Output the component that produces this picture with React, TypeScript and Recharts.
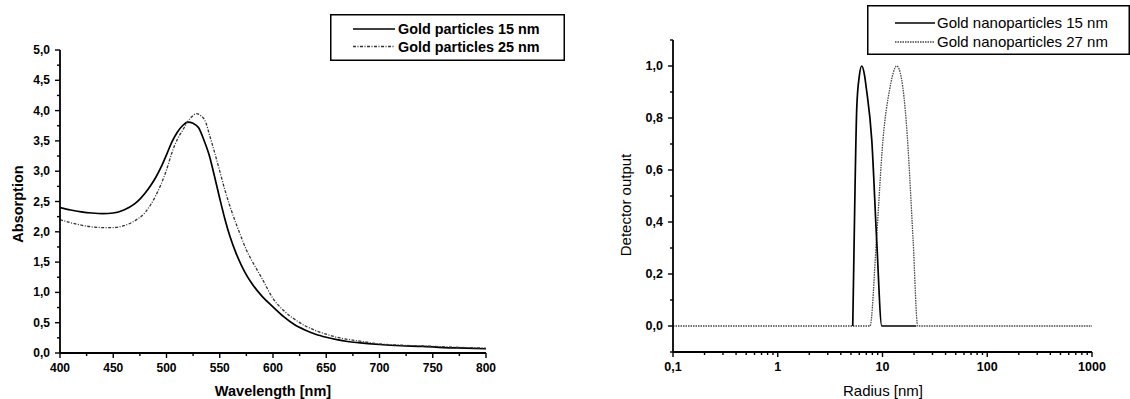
import React from "react";
import { LineChart, Line, XAxis, YAxis, Legend, Label } from "recharts";

const FONT = '"Liberation Sans", Arial, sans-serif';

// UV-vis absorption spectra
const wavelength15 = [400, 410, 420, 430, 440, 450, 460, 470, 475, 480, 485, 490, 495, 500, 505, 510, 515, 520, 525, 530, 535, 540, 545, 550, 555, 560, 565, 570, 575, 580, 590, 600, 610, 620, 630, 640, 650, 660, 670, 680, 700, 720, 740, 760, 780, 800];
const absorption15 = [2.4, 2.36, 2.33, 2.31, 2.3, 2.31, 2.36, 2.46, 2.54, 2.64, 2.76, 2.9, 3.07, 3.27, 3.48, 3.64, 3.75, 3.81, 3.79, 3.72, 3.52, 3.27, 2.92, 2.55, 2.2, 1.9, 1.66, 1.46, 1.29, 1.15, 0.93, 0.76, 0.6, 0.47, 0.38, 0.31, 0.26, 0.22, 0.19, 0.17, 0.14, 0.12, 0.11, 0.09, 0.08, 0.07];
const wavelength25 = [400, 410, 420, 430, 440, 450, 460, 470, 480, 490, 500, 505, 510, 515, 520, 525, 528, 532, 537, 540, 545, 550, 555, 560, 565, 570, 575, 580, 590, 600, 610, 620, 630, 640, 650, 660, 680, 700, 720, 750, 780, 800];
const absorption25 = [2.2, 2.15, 2.11, 2.08, 2.07, 2.07, 2.1, 2.18, 2.32, 2.6, 3.02, 3.3, 3.52, 3.67, 3.82, 3.92, 3.95, 3.92, 3.8, 3.62, 3.32, 3.0, 2.68, 2.4, 2.15, 1.92, 1.7, 1.53, 1.22, 0.9, 0.7, 0.56, 0.45, 0.37, 0.31, 0.26, 0.2, 0.15, 0.13, 0.11, 0.09, 0.08];
const wavelengthTicks = [400, 425, 450, 475, 500, 525, 550, 575, 600, 625, 650, 675, 700, 725, 750, 775, 800];
const absorptionTicks = [0, 0.25, 0.5, 0.75, 1, 1.25, 1.5, 1.75, 2, 2.25, 2.5, 2.75, 3, 3.25, 3.5, 3.75, 4, 4.25, 4.5, 4.75, 5];

// DLS size distribution
const radius15 = [5.2, 5.3, 5.43, 5.68, 6.0, 6.33, 6.7, 7.03, 7.9, 8.8, 9.85, 21];
const output15 = [0, 0.2, 0.46, 0.84, 0.96, 1.0, 0.97, 0.91, 0.715, 0.33, 0, 0];
const radius27 = [0.1, 7.6, 8.75, 10.1, 11.7, 13.7, 15.2, 16.9, 19.6, 21.7, 1000];
const output27 = [0, 0, 0.33, 0.715, 0.91, 1.0, 0.95, 0.78, 0.33, 0, 0];
const radiusTicks = [0.1, 0.2, 0.3, 0.4, 0.5, 0.6, 0.7, 0.8, 0.9, 1, 2, 3, 4, 5, 6, 7, 8, 9, 10, 20, 30, 40, 50, 60, 70, 80, 90, 100, 200, 300, 400, 500, 600, 700, 800, 900, 1000];
const outputTicks = [-0.1, 0, 0.1, 0.2, 0.3, 0.4, 0.5, 0.6, 0.7, 0.8, 0.9, 1.0, 1.1];

const zip = (xs: number[], ys: number[]) => xs.map((x, i) => ({ x, y: ys[i] }));
const comma = (v: number) => v.toFixed(1).replace(".", ",");

const SOLID = { stroke: "#000", strokeWidth: 1.7 };
const DOT_LEFT = { stroke: "#333", strokeWidth: 1.3, strokeDasharray: "3 1.5 1 1.5" };
const DOT_RIGHT = { stroke: "#444", strokeWidth: 1.3, strokeDasharray: "1.5 1" };

function xTick(isMajor: (v: number) => boolean, fmt: (v: number) => string, size: number) {
  return (props: any) => {
    const { x, y, payload } = props;
    const major = isMajor(payload.value);
    return (
      <g>
        <line x1={x} x2={x} y1={y} y2={y + (major ? 5 : 3)} stroke="#000" strokeWidth={1.4} />
        {major && (
          <text x={x} y={y + 19} textAnchor="middle" fontFamily={FONT} fontWeight="bold" fontSize={size} fill="#000">
            {fmt(payload.value)}
          </text>
        )}
      </g>
    );
  };
}

function yTick(isMajor: (v: number) => boolean, size: number) {
  return (props: any) => {
    const { x, y, payload } = props;
    const major = isMajor(payload.value);
    return (
      <g>
        <line x1={x - (major ? 5 : 3)} x2={x} y1={y} y2={y} stroke="#000" strokeWidth={1.4} />
        {major && (
          <text x={x - 10} y={y} dy={4} textAnchor="end" fontFamily={FONT} fontWeight="bold" fontSize={size} fill="#000">
            {comma(payload.value)}
          </text>
        )}
      </g>
    );
  };
}

function legendBox(opts: {
  width: number;
  height: number;
  rows: number[];
  lineX: [number, number];
  textX: number;
  labels: string[];
  styles: any[];
  fontSize: number;
  fontWeight: string;
}) {
  return () => (
    <svg width={opts.width} height={opts.height} style={{ display: "block" }}>
      <rect x={0.75} y={0.75} width={opts.width - 1.5} height={opts.height - 1.5} fill="#fff" stroke="#000" strokeWidth={1.5} />
      {opts.labels.map((label, i) => (
        <g key={label}>
          <line x1={opts.lineX[0]} x2={opts.lineX[1]} y1={opts.rows[i]} y2={opts.rows[i]} {...opts.styles[i]} />
          <text x={opts.textX} y={opts.rows[i]} dy={5} fontFamily={FONT} fontSize={opts.fontSize} fontWeight={opts.fontWeight} fill="#000">
            {label}
          </text>
        </g>
      ))}
    </svg>
  );
}

export default function App() {
  const spec15 = zip(wavelength15, absorption15);
  const spec25 = zip(wavelength25, absorption25);
  const dls15 = zip(radius15, output15);
  const dls27 = zip(radius27, output27);

  return (
    <div style={{ position: "absolute", left: 0, top: 0, width: 1130, height: 399, background: "#fff" }}>
      <div style={{ position: "absolute", left: 0, top: 0 }}>
        <LineChart width={570} height={399} margin={{ top: 50, right: 84, bottom: 16, left: 0 }}>
          <XAxis
            type="number"
            dataKey="x"
            domain={[400, 800]}
            ticks={wavelengthTicks}
            interval={0}
            allowDataOverflow
            height={30}
            tickSize={0}
            tickMargin={0}
            tickLine={false}
            axisLine={{ stroke: "#000", strokeWidth: 1.8 }}
            tick={xTick((v) => v % 50 === 0, (v) => String(v), 12)}
          >
            <Label
              content={() => (
                <text x={273} y={396} textAnchor="middle" fontFamily={FONT} fontWeight="bold" fontSize={14.5} fill="#000">
                  Wavelength [nm]
                </text>
              )}
            />
          </XAxis>
          <YAxis
            type="number"
            domain={[0, 5]}
            ticks={absorptionTicks}
            interval={0}
            allowDataOverflow
            width={60}
            tickSize={0}
            tickMargin={0}
            tickLine={false}
            axisLine={{ stroke: "#000", strokeWidth: 1.8 }}
            tick={yTick((v) => Math.abs(v * 2 - Math.round(v * 2)) < 1e-6, 12)}
          >
            <Label
              content={() => (
                <text x={23} y={204} transform="rotate(-90 23 204)" textAnchor="middle" fontFamily={FONT} fontWeight="bold" fontSize={14.5} fill="#000">
                  Absorption
                </text>
              )}
            />
          </YAxis>
          <Legend
            layout="vertical"
            align="center"
            verticalAlign="middle"
            wrapperStyle={{ position: "absolute", left: 330, top: 14, width: 235, height: 47 }}
            content={legendBox({
              width: 235,
              height: 47,
              rows: [15, 32.5],
              lineX: [23, 65],
              textX: 68,
              labels: ["Gold particles 15 nm", "Gold particles 25 nm"],
              styles: [SOLID, DOT_LEFT],
              fontSize: 14.4,
              fontWeight: "bold",
            })}
          />
          <Line data={spec15} dataKey="y" type="monotone" dot={false} activeDot={false} isAnimationActive={false} {...SOLID} />
          <Line data={spec25} dataKey="y" type="monotone" dot={false} activeDot={false} isAnimationActive={false} {...DOT_LEFT} />
        </LineChart>
      </div>

      <div style={{ position: "absolute", left: 580, top: 0 }}>
        <LineChart width={550} height={399} margin={{ top: 40, right: 38, bottom: 17, left: 0 }}>
          <XAxis
            type="number"
            dataKey="x"
            scale="log"
            domain={[0.1, 1000]}
            ticks={radiusTicks}
            interval={0}
            allowDataOverflow
            height={30}
            tickSize={0}
            tickMargin={0}
            tickLine={false}
            axisLine={{ stroke: "#000", strokeWidth: 1.8 }}
            tick={xTick(
              (v) => Math.abs(Math.log10(v) - Math.round(Math.log10(v))) < 1e-6,
              (v) => (v < 1 ? comma(v) : String(v)),
              12.5
            )}
          >
            <Label
              content={() => (
                <text x={303} y={396} textAnchor="middle" fontFamily={FONT} fontSize={15} fill="#000">
                  Radius [nm]
                </text>
              )}
            />
          </XAxis>
          <YAxis
            type="number"
            domain={[-0.1, 1.1]}
            ticks={outputTicks}
            interval={0}
            allowDataOverflow
            width={93}
            tickSize={0}
            tickMargin={0}
            tickLine={false}
            axisLine={{ stroke: "#000", strokeWidth: 1.8 }}
            tick={yTick((v) => Math.round(v * 10) % 2 === 0, 12.5)}
          >
            <Label
              content={() => (
                <text x={51} y={205} transform="rotate(-90 51 205)" textAnchor="middle" fontFamily={FONT} fontSize={15} fill="#000">
                  Detector output
                </text>
              )}
            />
          </YAxis>
          <Legend
            layout="vertical"
            align="center"
            verticalAlign="middle"
            wrapperStyle={{ position: "absolute", left: 287, top: 5, width: 263, height: 50 }}
            content={legendBox({
              width: 263,
              height: 50,
              rows: [18, 37],
              lineX: [28, 68],
              textX: 70,
              labels: ["Gold nanoparticles 15 nm", "Gold nanoparticles 27 nm"],
              styles: [SOLID, DOT_RIGHT],
              fontSize: 15,
              fontWeight: "normal",
            })}
          />
          <Line data={dls27} dataKey="y" type="monotone" dot={false} activeDot={false} isAnimationActive={false} {...DOT_RIGHT} />
          <Line data={dls15} dataKey="y" type="monotone" dot={false} activeDot={false} isAnimationActive={false} {...SOLID} />
        </LineChart>
      </div>
    </div>
  );
}
